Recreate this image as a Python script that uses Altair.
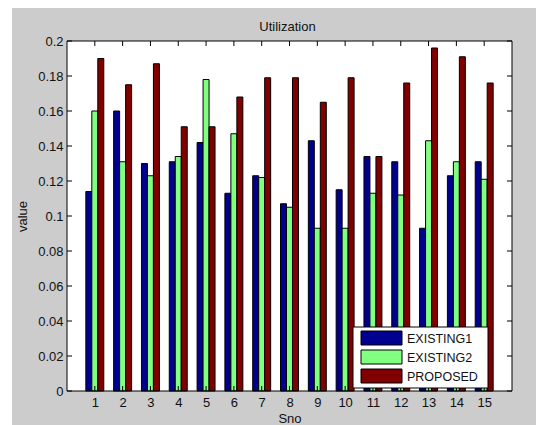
import altair as alt
import pandas as pd

# Utilization per serial number for the three schemes
sno = list(range(1, 16))
existing1 = [0.114, 0.160, 0.130, 0.131, 0.142, 0.113, 0.123, 0.107, 0.143,
             0.115, 0.134, 0.131, 0.093, 0.123, 0.131]
existing2 = [0.160, 0.131, 0.123, 0.134, 0.178, 0.147, 0.122, 0.105, 0.093,
             0.093, 0.113, 0.112, 0.143, 0.131, 0.121]
proposed = [0.190, 0.175, 0.187, 0.151, 0.151, 0.168, 0.179, 0.179, 0.165,
            0.179, 0.134, 0.176, 0.196, 0.191, 0.176]

series_names = ["EXISTING1", "EXISTING2", "PROPOSED"]
series_colors = ["#00008f", "#80ff80", "#800000"]
y_ticks = [0, 0.02, 0.04, 0.06, 0.08, 0.1, 0.12, 0.14, 0.16, 0.18, 0.2]
chart_title = "Utilization"

FONT = "Liberation Sans"
TEXT = "#111111"
FS = 13
W, H = 445, 350
TICK = 5

rows = []
for slot, (name, vals) in enumerate(zip(series_names, [existing1, existing2, proposed])):
    for s, v in zip(sno, vals):
        rows.append({"Sno": s, "series": name, "slot": slot, "value": v})
bars_df = pd.DataFrame(rows)

x_axis = alt.Axis(values=sno, title="Sno", ticks=False, domain=False, grid=False,
                  labelPadding=5, labelFontSize=FS, labelFont=FONT, labelColor=TEXT,
                  labelAngle=0, titleFontSize=FS, titleFont=FONT, titleColor=TEXT,
                  titleFontWeight="normal", titlePadding=3, zindex=1)
y_axis = alt.Axis(values=y_ticks, format="~g", title="value", ticks=False, domain=False,
                  grid=False, labelPadding=4, labelFontSize=FS, labelFont=FONT,
                  labelColor=TEXT, titleFontSize=FS, titleFont=FONT, titleColor=TEXT,
                  titleFontWeight="normal", titlePadding=8, zindex=1)
x_scale = alt.Scale(domain=[0, 16], nice=False, zero=False)
y_scale = alt.Scale(domain=[0, 0.2], nice=False)
color_scale = alt.Scale(domain=series_names, range=series_colors)

one = pd.DataFrame({"k": [0]})

# figure backdrop and white axes area
backdrop = alt.Chart(one).mark_rect(color="#cccccc").encode(
    x=alt.value(-55), x2=alt.value(W + 24), y=alt.value(-33), y2=alt.value(H + 34))
plot_bg = alt.Chart(one).mark_rect(color="white").encode(
    x=alt.value(0), x2=alt.value(W), y=alt.value(0), y2=alt.value(H))

title_text = alt.Chart(one).mark_text(
    text=chart_title, align="center", baseline="alphabetic", font=FONT,
    fontSize=FS, color=TEXT).encode(x=alt.value(W / 2 - 2), y=alt.value(-10))

bars = alt.Chart(bars_df).transform_calculate(
    x0="datum.Sno + (datum.slot - 1) * 0.215 - 0.1075",
    x1="datum.Sno + (datum.slot - 1) * 0.215 + 0.1075",
).mark_rect(stroke="black", strokeWidth=1).encode(
    x=alt.X("x0:Q", scale=x_scale, axis=x_axis),
    x2="x1:Q",
    y=alt.Y("value:Q", scale=y_scale, axis=y_axis),
    y2=alt.datum(0),
    fill=alt.Fill("series:N", scale=color_scale, legend=None),
)

# inward ticks on all four sides of the box
xt = pd.DataFrame({"x0": sno})
yt = pd.DataFrame({"value": y_ticks})
tick_style = dict(color="black", strokeWidth=1)
xb = alt.Chart(xt).mark_rule(**tick_style).encode(
    x=alt.X("x0:Q", scale=x_scale, axis=x_axis), y=alt.value(H), y2=alt.value(H - TICK))
xtp = alt.Chart(xt).mark_rule(**tick_style).encode(
    x=alt.X("x0:Q", scale=x_scale, axis=x_axis), y=alt.value(0), y2=alt.value(TICK))
yl = alt.Chart(yt).mark_rule(**tick_style).encode(
    y=alt.Y("value:Q", scale=y_scale, axis=y_axis), x=alt.value(0), x2=alt.value(TICK))
yr = alt.Chart(yt).mark_rule(**tick_style).encode(
    y=alt.Y("value:Q", scale=y_scale, axis=y_axis), x=alt.value(W - TICK), x2=alt.value(W))

border = alt.Chart(one).mark_rect(fillOpacity=0, stroke="black", strokeWidth=1).encode(
    x=alt.value(0), x2=alt.value(W), y=alt.value(0), y2=alt.value(H))

# legend box in the lower right corner
LX, LY, LW, LH = 286, 286, 135, 61
legend_layers = [
    alt.Chart(one).mark_rect(fill="white", stroke="black", strokeWidth=1).encode(
        x=alt.value(LX), x2=alt.value(LX + LW), y=alt.value(LY), y2=alt.value(LY + LH))
]
for i, (name, col) in enumerate(zip(series_names, series_colors)):
    top = LY + 4 + 19 * i
    legend_layers.append(
        alt.Chart(one).mark_rect(fill=col, stroke="black", strokeWidth=1).encode(
            x=alt.value(LX + 8), x2=alt.value(LX + 49), y=alt.value(top),
            y2=alt.value(top + 14)))
    legend_layers.append(
        alt.Chart(one).mark_text(text=name, align="left", baseline="middle",
                                 font=FONT, fontSize=12.5, color=TEXT).encode(
            x=alt.value(LX + 54), y=alt.value(top + 7.5)))

chart = alt.layer(backdrop, plot_bg, title_text, bars, xb, xtp, yl, yr, border,
                  *legend_layers).properties(
    width=W, height=H,
    autosize=alt.AutoSizeParams(type="none"),
    padding={"left": 67, "top": 41, "right": 24, "bottom": 34},
    background="white",
).configure_view(stroke=None)

chart.save("out.html", embed_options={"renderer": "svg", "actions": False})
